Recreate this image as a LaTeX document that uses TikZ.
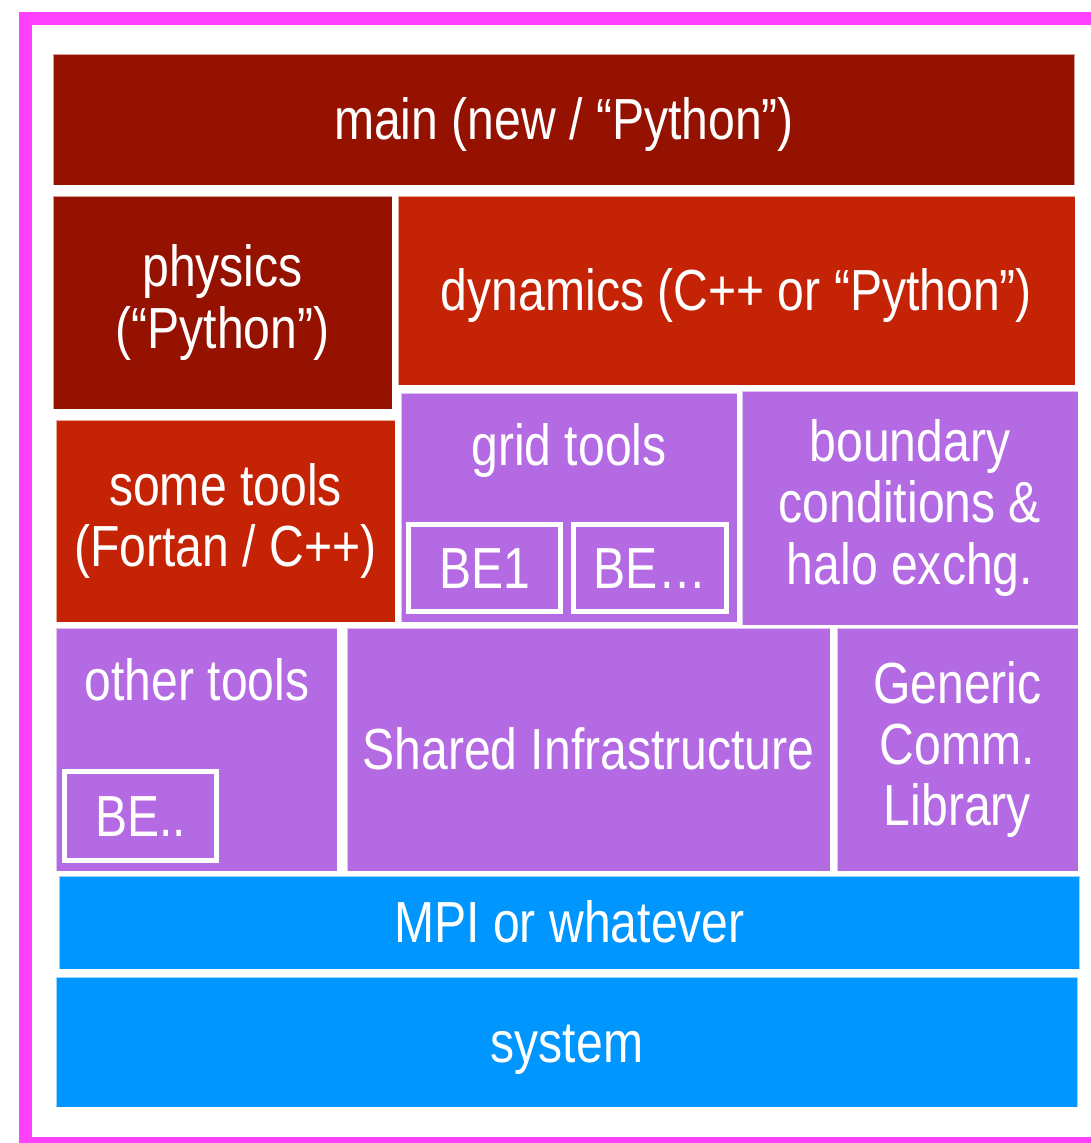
\documentclass[tikz,border=0pt]{standalone}
\usepackage{fontspec}
\setmainfont{Liberation Sans}[FakeStretch=0.83]

\definecolor{maincol}{HTML}{951200}
\definecolor{redcol}{HTML}{C52305}
\definecolor{toolcol}{HTML}{B36AE2}
\definecolor{syscol}{HTML}{0096FF}
\definecolor{framecol}{HTML}{FF40FF}

\begin{document}
\begin{tikzpicture}[x=0.02cm, y=-0.02cm,
  layer/.style={draw=white, draw opacity=0.6, line width=0.5pt, inner sep=0pt,
    text=white, font=\fontsize{33}{35}\selectfont, align=center},
  oneline/.style={text height=29.7pt, text depth=6.6pt},
  bebox/.style={draw=white, line width=0.1cm, fill=toolcol, inner sep=0pt,
    text=white, font=\fontsize{33}{35}\selectfont, oneline},
  toollabel/.style={text=white, font=\fontsize{33}{35}\selectfont,
    anchor=base, inner sep=0pt}]

  \useasboundingbox (0,0) rectangle (1091,1143);

  % Outer frame
  \draw[framecol, line width=0.26cm] (25.5,18.5) rectangle (1110,1143.5);

  % Top layers
  \node[layer, oneline, fill=maincol, minimum width=20.44cm, minimum height=2.62cm]
    (main) at (564,119.5) {main (new / “Python”)};
  \node[layer, fill=maincol, minimum width=6.78cm, minimum height=4.26cm]
    (physics) at (222.5,302.5) {physics\\(“Python”)};
  \node[layer, oneline, fill=redcol, minimum width=13.54cm, minimum height=3.78cm]
    (dynamics) at (736.5,290.5) {dynamics (C++ or “Python”)};

  % Tools
  \node[layer, fill=redcol, minimum width=6.78cm, minimum height=4.04cm]
    (sometools) at (225.5,521) {some tools\\(Fortan / C++)};
  \node[layer, fill=toolcol, minimum width=6.72cm, minimum height=4.58cm]
    (gridtools) at (569,507.5) {};
  \node[toollabel] (gridlabel) at (569,465) {grid tools};
  \node[bebox, minimum width=3.04cm, minimum height=1.74cm]
    (beone) at (484.5,568) {BE1};
  \node[bebox, minimum width=3.06cm, minimum height=1.74cm]
    (bemore) at (650,568) {BE…};
  \node[layer, fill=toolcol, minimum width=6.72cm, minimum height=4.68cm]
    (boundary) at (910,508) {boundary\\conditions \&\\halo exchg.};

  % Infrastructure
  \node[layer, fill=toolcol, minimum width=5.62cm, minimum height=4.86cm]
    (othertools) at (196.5,749.5) {};
  \node[toollabel] (otherlabel) at (197,700) {other tools};
  \node[bebox, minimum width=3.04cm, minimum height=1.78cm]
    (beother) at (140.5,816) {BE..};
  \node[layer, oneline, fill=toolcol, minimum width=9.66cm, minimum height=4.86cm]
    (shared) at (588.5,749.5) {Shared Infrastructure};
  \node[layer, fill=toolcol, minimum width=4.82cm, minimum height=4.86cm]
    (generic) at (957.5,749.5) {Generic\\Comm.\\Library};

  % Bottom layers
  \node[layer, oneline, fill=syscol, minimum width=20.42cm, minimum height=1.86cm]
    (mpi) at (569.5,922.5) {MPI or whatever};
  \node[layer, oneline, fill=syscol, minimum width=20.44cm, minimum height=2.6cm]
    (system) at (567,1042) {system};

\end{tikzpicture}
\end{document}
